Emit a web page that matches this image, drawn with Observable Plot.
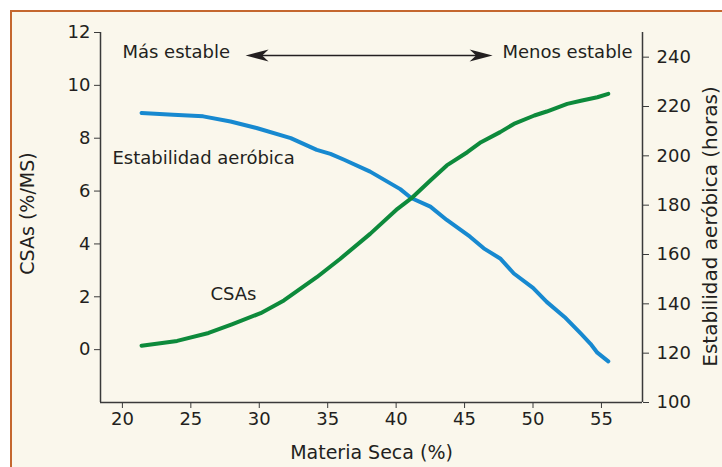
<!DOCTYPE html>
<html>
<head>
<meta charset="utf-8">
<script src="https://cdn.jsdelivr.net/npm/d3@7"></script>
<script src="https://cdn.jsdelivr.net/npm/@observablehq/plot@0.6"></script>
<style>
  html, body { margin: 0; padding: 0; background: #ffffff; }
  #wrap { position: relative; width: 722px; height: 467px; overflow: hidden; }
  #bg { position: absolute; left: 10px; top: 10px; right: 0; bottom: 0;
        background: #faf7ec; border-top: 2px solid #c4672f; border-left: 2px solid #c4672f; }
  #chart { position: absolute; left: 0; top: 0; }
</style>
</head>
<body>
<div id="wrap"><div id="bg"></div><div id="chart"></div></div>
<script>
// Materia seca (%) and CSAs (%/MS)
const msCSAs = [21.4, 24.0, 26.3, 28.0, 30.1, 31.8, 34.2, 35.9, 38.1, 40.1, 41.1, 42.5, 43.7, 45.2, 46.2, 47.6, 48.6, 50.1, 51.0, 52.5, 53.5, 54.7, 55.5];
const csas   = [0.15, 0.33, 0.63, 0.96, 1.38, 1.86, 2.74, 3.43, 4.38, 5.33, 5.72, 6.40, 6.97, 7.47, 7.85, 8.23, 8.54, 8.86, 9.01, 9.30, 9.42, 9.55, 9.68];

// Materia seca (%) and Estabilidad aeróbica (horas)
const msEstab = [21.4, 23.7, 25.9, 27.9, 29.8, 32.3, 34.2, 35.2, 36.2, 38.1, 40.3, 41.1, 42.5, 43.7, 45.4, 46.4, 47.6, 48.6, 50.0, 51.0, 52.3, 53.5, 54.2, 54.7, 55.5];
const estab   = [217.4, 216.7, 216.0, 213.9, 211.3, 207.2, 202.4, 200.8, 198.4, 193.6, 186.5, 182.9, 179.4, 174.0, 167.2, 162.5, 158.4, 152.3, 146.5, 140.8, 134.7, 127.9, 123.8, 120.2, 116.7];

// Tick labels
const xTicks = [20, 25, 30, 35, 40, 45, 50, 55];
const leftTicks = [0, 2, 4, 6, 8, 10, 12];
const rightTicks = [100, 120, 140, 160, 180, 200, 220, 240];

// Annotation texts
const labelMas = "Más estable";
const labelMenos = "Menos estable";
const labelEstab = "Estabilidad aeróbica";
const labelCSAs = "CSAs";
const titleX = "Materia Seca (%)";
const titleYLeft = "CSAs (%/MS)";
const titleYRight = "Estabilidad aeróbica (horas)";

// Dual axis mapping: hours (100..250) onto CSAs scale (-2..12)
const yDomain = [-2, 12];
const hDomain = [100, 250];
const toLeft = h => yDomain[0] + (h - hDomain[0]) * (yDomain[1] - yDomain[0]) / (hDomain[1] - hDomain[0]);
const toHours = v => hDomain[0] + (v - yDomain[0]) * (hDomain[1] - hDomain[0]) / (yDomain[1] - yDomain[0]);

const csasData = msCSAs.map((x, i) => ({x, y: csas[i]}));
const estabData = msEstab.map((x, i) => ({x, y: toLeft(estab[i])}));

const xDomain = [18.4, 58];
const ink = "#231f20";
const axisInk = "#3a3a3a";

// Filled dart arrowhead, tip at origin pointing right
const dart = {
  draw(ctx) {
    const L = 23, H = 6;
    ctx.moveTo(0, 0);
    ctx.lineTo(-L, -H);
    ctx.lineTo(-L * 0.72, 0);
    ctx.lineTo(-L, H);
    ctx.closePath();
  }
};

const arrowY = 11.13;
const chart = Plot.plot({
  width: 722,
  height: 467,
  marginLeft: 100,
  marginRight: 80,
  marginTop: 32,
  marginBottom: 65,
  x: {domain: xDomain},
  y: {domain: yDomain},
  style: {background: "transparent", fontFamily: "DejaVu Sans", fontSize: "18px", color: ink},
  marks: [
    Plot.ruleX([xDomain[0]], {stroke: axisInk, strokeWidth: 1.5}),
    Plot.ruleX([xDomain[1]], {stroke: axisInk, strokeWidth: 1.5}),
    Plot.ruleY([yDomain[0]], {stroke: axisInk, strokeWidth: 1.5}),
    Plot.axisX({ticks: xTicks, tickSize: 6, tickPadding: 4, label: null, stroke: axisInk, fill: ink, fontSize: 18}),
    Plot.axisY({anchor: "left", ticks: leftTicks, tickSize: 6, tickPadding: 4, label: null, stroke: axisInk, fill: ink, fontSize: 18}),
    Plot.axisY({anchor: "right", ticks: rightTicks.map(toLeft), tickFormat: d => String(Math.round(toHours(d))),
                tickSize: 6, tickPadding: 8, label: null, stroke: axisInk, fill: ink, fontSize: 18}),
    Plot.line(estabData, {x: "x", y: "y", stroke: "#1789d0", strokeWidth: 4, curve: "linear"}),
    Plot.line(csasData, {x: "x", y: "y", stroke: "#0d8a3b", strokeWidth: 4, curve: "linear"}),
    Plot.ruleY([arrowY], {x1: 29.6, x2: 46.5, stroke: ink, strokeWidth: 1.5}),
    Plot.dot([{x: 47.05, y: arrowY}], {x: "x", y: "y", symbol: dart, fill: ink, stroke: "none", r: 6}),
    Plot.dot([{x: 29.0, y: arrowY}], {x: "x", y: "y", symbol: dart, fill: ink, stroke: "none", r: 6, rotate: 180}),
    Plot.text([labelMas], {text: d => d, x: 20.0, y: 11.24, textAnchor: "start", fill: ink, fontSize: 18}),
    Plot.text([labelMenos], {text: d => d, x: 57.28, y: 11.24, textAnchor: "end", fill: ink, fontSize: 18}),
    Plot.text([labelEstab], {text: d => d, x: 19.27, y: 7.25, textAnchor: "start", fill: ink, fontSize: 18}),
    Plot.text([labelCSAs], {text: d => d, x: 26.43, y: 2.09, textAnchor: "start", fill: ink, fontSize: 18}),
    Plot.text([titleX], {text: d => d, frameAnchor: "bottom", textAnchor: "middle", lineAnchor: "middle", dy: 50, fill: ink, fontSize: 19}),
    Plot.text([titleYLeft], {text: d => d, frameAnchor: "left", textAnchor: "middle", lineAnchor: "middle", dx: -73, dy: -4, rotate: -90, fill: ink, fontSize: 19}),
    Plot.text([titleYRight], {text: d => d, frameAnchor: "right", textAnchor: "middle", lineAnchor: "middle", dx: 68, dy: 9, rotate: -90, fill: ink, fontSize: 20})
  ]
});
document.getElementById("chart").appendChild(chart);
</script>
</body>
</html>
